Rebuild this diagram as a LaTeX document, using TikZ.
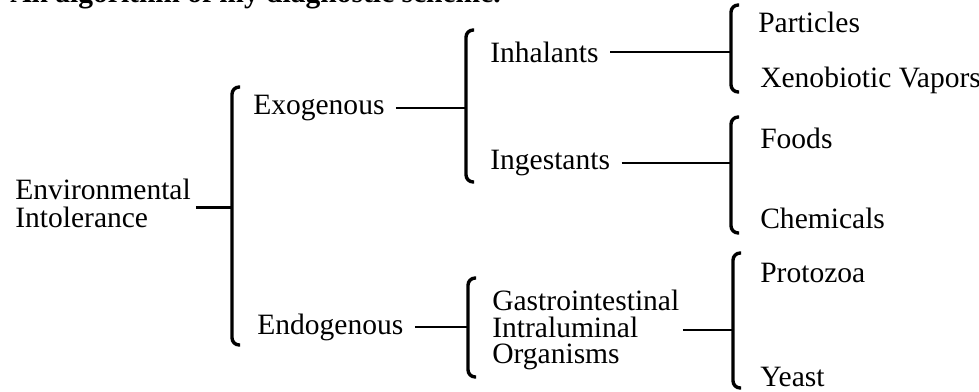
\documentclass[tikz,border=0pt]{standalone}
\usepackage{fontspec}
\setmainfont{Liberation Serif}
\tikzset{
  item/.style={anchor=west, inner sep=0pt, align=left, font=\fontsize{21}{20}\selectfont},
  link/.style={line width=2pt, shorten <=0.28cm},
  brace/.style={line width=2.4pt, rounded corners=0.18cm},
}
\begin{document}
\begin{tikzpicture}[x=0.025cm, y=-0.025cm]
        \useasboundingbox (0,0) rectangle (979,391);
        \clip (0,0) rectangle (979,391);

        % caption, cut off by the top edge
        \node[anchor=base west, inner sep=0pt, font=\bfseries\fontsize{21}{20}\selectfont] (cap) at (10,2) {An algorithm of my diagnostic scheme.};

        \node[item] (env) at (15,203) {Environmental\\Intolerance};
        \node[item] (exo) at (253,108) {Exogenous};
        \node[item] (endo) at (257,327) {Endogenous};
        \node[item] (inh) at (490,52) {Inhalants};
        \node[item] (ing) at (490,163) {Ingestants};
        \node[item, font=\fontsize{21}{19}\selectfont] (gio) at (492,330) {Gastrointestinal\\Intraluminal\\Organisms};
        \node[item] (part) at (758,22) {Particles};
        \node[item] (xeno) at (760,80) {Xenobiotic Vapors};
        \node[item] (food) at (760,138) {Foods};
        \node[item] (chem) at (760,218) {Chemicals};
        \node[item] (proto) at (760,273) {Protozoa};
        \node[item] (yeast) at (760,377) {Yeast};

        % brace ends
        \coordinate (b1t) at (232,87);  \coordinate (b1b) at (232,345);
        \coordinate (b2t) at (466,30);  \coordinate (b2b) at (466,182);
        \coordinate (b3t) at (468,278); \coordinate (b3b) at (468,377);
        \coordinate (b4t) at (731,5);   \coordinate (b4b) at (731,92);
        \coordinate (b5t) at (731,117); \coordinate (b5b) at (731,233);
        \coordinate (b6t) at (733,253); \coordinate (b6b) at (733,388);

        \draw[brace] ([xshift=0.2cm]b1t) -- (b1t) -- (b1b) -- ([xshift=0.2cm]b1b);
        \draw[brace] ([xshift=0.2cm]b2t) -- (b2t) -- (b2b) -- ([xshift=0.2cm]b2b);
        \draw[brace] ([xshift=0.2cm]b3t) -- (b3t) -- (b3b) -- ([xshift=0.2cm]b3b);
        \draw[brace] ([xshift=0.2cm]b4t) -- (b4t) -- (b4b) -- ([xshift=0.2cm]b4b);
        \draw[brace] ([xshift=0.2cm]b5t) -- (b5t) -- (b5b) -- ([xshift=0.2cm]b5b);
        \draw[brace] ([xshift=0.2cm]b6t) -- (b6t) -- (b6b) -- ([xshift=0.2cm]b6b);

        \draw[link, shorten <=0.12cm] ([yshift=-0.12cm]env.east) -- ([yshift=-0.12cm]env.east -| b1t);
        \draw[link] (exo.east) -- (exo.east -| b2t);
        \draw[link] (endo.east) -- (endo.east -| b3t);
        \draw[link] (inh.east) -- (inh.east -| b4t);
        \draw[link] (ing.east) -- (ing.east -| b5t);
        \draw[link, shorten <=0.08cm] (gio.east) -- (gio.east -| b6t);
    \end{tikzpicture}
\end{document}
